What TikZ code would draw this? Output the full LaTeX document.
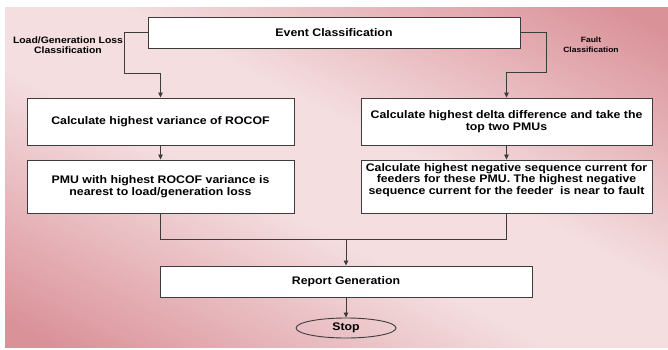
\documentclass[tikz,border=0pt]{standalone}
\usepackage{fontspec}
\setmainfont{Liberation Sans}[FakeStretch=1.12]
\usetikzlibrary{arrows.meta,shapes.geometric}
\definecolor{bgdark}{RGB}{218,146,153}
\definecolor{bglight}{RGB}{244,222,224}
\definecolor{edge}{RGB}{60,60,60}
\pgfdeclarehorizontalshading{bgshade}{100bp}{color(0bp)=(bgdark); color(19bp)=(bgdark); color(44bp)=(bglight); color(56bp)=(bglight); color(81bp)=(bgdark); color(100bp)=(bgdark)}
\begin{document}
\begin{tikzpicture}[x=1pt,y=-1pt,
  box/.style={draw=edge,line width=0.9pt,fill=white,rectangle,inner sep=2pt,align=center,font=\fontsize{11}{11.6}\selectfont\bfseries},
  lbl/.style={align=center,inner sep=0pt},
  conn/.style={draw=edge,line width=0.8pt},
  arr/.style={conn,-{Triangle[length=5pt,width=4.5pt]}}]
\useasboundingbox (0,0) rectangle (668,350);
\begin{scope}[y=1pt]
\shade[shading=bgshade,shading angle=63] (5,-8) rectangle (668,-347);
\end{scope}
\node[box,minimum width=372pt,minimum height=31pt] (ev) at (334,32.5) {Event Classification};
\node[box,minimum width=267pt,minimum height=47pt] (l1) at (160.5,121.5) {Calculate highest variance of ROCOF};
\node[box,minimum width=267pt,minimum height=53pt] (l2) at (160.5,186.5) {PMU with highest ROCOF variance is\\nearest to load/generation loss};
\node[box,minimum width=291pt,minimum height=47pt] (r1) at (506.5,121.5) {Calculate highest delta difference and take the\\top two PMUs};
\node[box,minimum width=291pt,minimum height=53pt] (r2) at (506.5,186.5) {Calculate highest negative sequence current for\\feeders for these PMU. The highest negative\\sequence current for the feeder\ \ is near to fault\\\strut};
\node[box,minimum width=372pt,minimum height=31pt] (rep) at (346,281.5) {Report Generation};
\node[draw=edge,line width=0.9pt,ellipse,minimum width=100pt,minimum height=20pt,inner sep=0pt,font=\fontsize{11}{12}\selectfont\bfseries] (stop) at (346,328) {Stop};
\node[lbl,font=\fontsize{9.3}{10}\selectfont\bfseries] (lab1) at (68,45) {Load/Generation Loss\\Classification};
\node[lbl,font=\fontsize{7.6}{10}\selectfont\bfseries] (lab2) at (591,45) {Fault\\Classification};
\coordinate (a1) at (124,32);
\coordinate (a2) at (124,73);
\coordinate (a3) at (160.5,73);
\coordinate (b1) at (546,32);
\coordinate (b2) at (546,72);
\coordinate (b3) at (506.5,72);
\coordinate (c1) at (160.5,239);
\coordinate (c2) at (506.5,239);
\coordinate (c3) at (346,239);
\draw[conn] (ev.west |- a1) -- (a1) -- (a2) -- (a3);
\draw[arr] (a3) -- (l1.north);
\draw[conn] (ev.east |- b1) -- (b1) -- (b2) -- (b3);
\draw[arr] (b3) -- (r1.north);
\draw[arr] (l1.south) -- (l2.north);
\draw[arr] (r1.south) -- (r2.north);
\draw[conn] (l2.south) -- (c1) -- (c2) -- (r2.south);
\draw[arr] (c3) -- (rep.north);
\draw[arr] (rep.south) -- (stop.north);
\end{tikzpicture}
\end{document}
